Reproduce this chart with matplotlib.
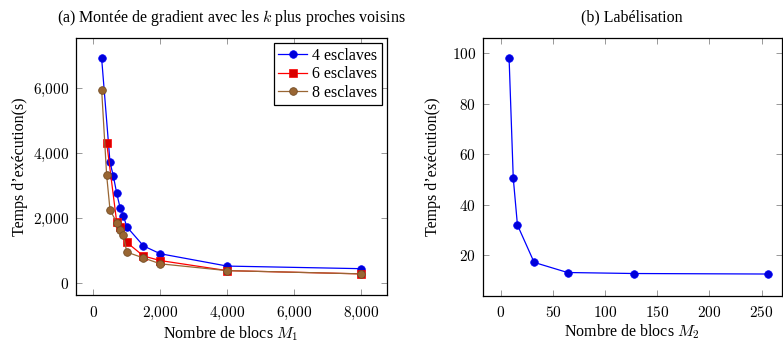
import matplotlib
matplotlib.use("Agg")
import matplotlib.pyplot as plt
from matplotlib.ticker import FuncFormatter

plt.rcParams['font.family'] = ['Liberation Serif', 'DejaVu Serif']
plt.rcParams['mathtext.fontset'] = 'cm'

# (a) k plus proches voisins
x4 = [250, 500, 600, 700, 800, 900, 1000, 1500, 2000, 4000, 8000]
y4 = [6920, 3720, 3300, 2770, 2330, 2080, 1740, 1150, 910, 530, 450]
x6 = [400, 700, 800, 1000, 1500, 2000, 4000, 8000]
y6 = [4330, 1880, 1720, 1260, 840, 700, 390, 290]
x8 = [250, 400, 500, 700, 800, 900, 1000, 1500, 2000, 4000, 8000]
y8 = [5960, 3320, 2260, 1870, 1640, 1480, 960, 780, 600, 390, 290]

# (b) Labélisation
xb = [8, 12, 16, 32, 64, 128, 256]
yb = [98, 50.5, 32, 17.2, 13.2, 12.8, 12.6]

W, H = 783, 343
fig = plt.figure(figsize=(W / 100, H / 100), dpi=100)
ax1 = fig.add_axes([75.7 / W, 1 - 295 / H, 311 / W, (295 - 38.3) / H])
ax2 = fig.add_axes([483 / W, 1 - 295.5 / H, 298.5 / W, (295.5 - 38.3) / H])

fs = 11.5   # textes
tfs = 11    # étiquettes des graduations


def num_fmt(v, pos):
    s = f"{int(round(v)):,}".replace(",", "{,}")
    return "$" + s + "$"


def style(ax):
    ax.tick_params(direction='in', which='both', top=True, right=True,
                   length=4, width=0.6, color='#888888', labelsize=tfs, pad=5)
    ax.tick_params(axis='x', pad=7)
    for sp in ax.spines.values():
        sp.set_linewidth(0.9)
    ax.xaxis.set_major_formatter(FuncFormatter(num_fmt))
    ax.yaxis.set_major_formatter(FuncFormatter(num_fmt))


blue = (0, 0, 1)
red = (1, 0, 0)
brown = (0.6, 0.4, 0.2)

ax1.plot(x4, y4, '-o', color=blue, lw=0.9, ms=5.5, mfc=(0, 0, 0.85), mec=blue, mew=0.5, label='4 esclaves')
ax1.plot(x6, y6, '-s', color=red, lw=0.9, ms=5.5, mfc=(0.85, 0, 0), mec=red, mew=0.5, label='6 esclaves')
ax1.plot(x8, y8, '-o', color=brown, lw=0.9, ms=5.5, mfc=(0.6, 0.4, 0.2), mec=(0.45, 0.3, 0.15), mew=0.6, label='8 esclaves')
ax1.set_xlim(-525, 8765)
ax1.set_ylim(-360, 7540)
ax1.set_xticks([0, 2000, 4000, 6000, 8000])
ax1.set_yticks([0, 2000, 4000, 6000])
style(ax1)
ax1.set_xlabel("Nombre de blocs $M_1$", fontsize=fs, labelpad=1.5)
ax1.set_ylabel("Temps d’exécution(s)", fontsize=fs, labelpad=3)
ax1.set_title("(a) Montée de gradient avec les $k$ plus proches voisins", fontsize=fs, pad=12)
leg = ax1.legend(loc='upper right', fontsize=fs, frameon=True, fancybox=False,
                 edgecolor='black', framealpha=1, handlelength=1.8, borderpad=0.3,
                 labelspacing=0.15, handletextpad=0.3, borderaxespad=0.3)
leg.get_frame().set_linewidth(0.9)

ax2.plot(xb, yb, '-o', color=blue, lw=0.9, ms=5.5, mfc=(0, 0, 0.85), mec=blue, mew=0.5)
ax2.set_xlim(-17, 269)
ax2.set_ylim(4.1, 105.9)
ax2.set_xticks([0, 50, 100, 150, 200, 250])
ax2.set_yticks([20, 40, 60, 80, 100])
style(ax2)
ax2.set_xlabel("Nombre de blocs $M_2$", fontsize=fs, labelpad=1.5)
ax2.set_ylabel("Temps d’exécution(s)", fontsize=fs, labelpad=8)
ax2.set_title("(b) Labélisation", fontsize=fs, pad=12)

fig.savefig("out.png", dpi=100)
